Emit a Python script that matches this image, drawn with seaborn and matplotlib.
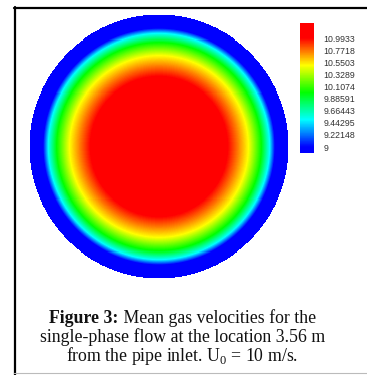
"""Mean gas velocity field over the pipe cross-section (single-phase flow)."""

import matplotlib

matplotlib.use("Agg")

import matplotlib.pyplot as plt
import numpy as np
import seaborn as sns
from matplotlib.colors import LinearSegmentedColormap
from matplotlib.lines import Line2D

# ---------------------------------------------------------------------------
# Data
# ---------------------------------------------------------------------------

# radial velocity profile (r / R -> mean gas velocity, m/s)
raio_rel = [0.0, 0.30, 0.53, 0.61, 0.69, 0.79, 0.855, 0.895, 0.95, 1.0]
velocidade = [11.25, 11.15, 10.9933, 10.75, 10.495, 9.997, 9.498, 9.0, 8.8, 8.6]

niveis = [10.9933, 10.7718, 10.5503, 10.3289, 10.1074,
          9.88591, 9.66443, 9.44295, 9.22148, 9.0]
rotulos_niveis = ["10.9933", "10.7718", "10.5503", "10.3289", "10.1074",
                  "9.88591", "9.66443", "9.44295", "9.22148", "9"]
v_min, v_max = 9.0, 10.9933

linhas_legenda = [
    "single-phase flow at the location 3.56 m",
    "from the pipe inlet. U$_0$ = 10 m/s.",
]

# ---------------------------------------------------------------------------
# Field on a grid (radial profile evaluated over the section)
# ---------------------------------------------------------------------------

n = 260
eixo = np.linspace(-1, 1, n)
xx, yy = np.meshgrid(eixo, eixo)
rr = np.hypot(xx, yy)
campo = np.interp(rr, raio_rel, velocidade)
fora = rr > 1.0

cores = ["#0000ff", "#00ffff", "#00ff00", "#ffff00", "#ff0000"]
cmap = LinearSegmentedColormap.from_list("fluent", cores)
cmap.set_over("#ff0000")
cmap.set_under("#0000ff")

sns.set_style("white")
plt.rcParams["mathtext.fontset"] = "custom"
plt.rcParams["mathtext.rm"] = "Liberation Serif"

fig = plt.figure(figsize=(3.67, 3.75), dpi=100)
W, H = 367.0, 375.0

ax = fig.add_axes([28.7 / W, 1 - 279 / H, 260 / W, 265 / H])
sns.heatmap(
    campo,
    mask=fora,
    cmap=cmap,
    vmin=v_min,
    vmax=v_max,
    cbar=False,
    xticklabels=False,
    yticklabels=False,
    ax=ax,
)
ax.set_axis_off()

# legend bar
cax = fig.add_axes([300 / W, 1 - 153 / H, 14 / W, 130 / H])
cbar = fig.colorbar(
    ax.collections[0],
    cax=cax,
    extend="both",
    extendfrac=(0.055, 0.138),
    extendrect=True,
    ticks=niveis,
)
cbar.set_ticklabels(rotulos_niveis)
cbar.outline.set_visible(False)
cax.tick_params(length=0, pad=7, labelsize=6.3, labelcolor="#333333")
for lbl in cax.get_yticklabels():
    lbl.set_fontfamily("Liberation Sans")

# ---------------------------------------------------------------------------
# Frame
# ---------------------------------------------------------------------------

fig.add_artist(Line2D([14.5 / W, 14.5 / W], [0, 1 - 7 / H], color="black",
                      lw=1.6, transform=fig.transFigure))
fig.add_artist(Line2D([13.8 / W, 1], [1 - 7.5 / H, 1 - 7.5 / H], color="black",
                      lw=1.6, transform=fig.transFigure))
fig.add_artist(Line2D([14 / W, 1], [1 - 372.5 / H, 1 - 372.5 / H], color="#bbbbbb",
                      lw=0.8, transform=fig.transFigure))

# ---------------------------------------------------------------------------
# Caption
# ---------------------------------------------------------------------------

cx = 182.5 / W
tam = 12.8
fig.canvas.draw()
rend = fig.canvas.get_renderer()

t_neg = fig.text(0, 1 - 322.7 / H, "Figure 3:", fontsize=tam, fontweight="bold",
                 family="Liberation Serif", color="#111111", va="baseline")
t_rest = fig.text(0, 1 - 322.7 / H, " Mean gas velocities for the", fontsize=tam,
                  family="Liberation Serif", color="#111111", va="baseline")
w_neg = t_neg.get_window_extent(rend).width / fig.bbox.width
w_rest = t_rest.get_window_extent(rend).width / fig.bbox.width
x0 = cx - (w_neg + w_rest) / 2
t_neg.set_x(x0)
t_rest.set_x(x0 + w_neg)

for i, linha in enumerate(linhas_legenda):
    fig.text(cx, 1 - (341.9 + 19.5 * i) / H, linha, fontsize=tam, ha="center",
             family="Liberation Serif", color="#111111", va="baseline")

fig.savefig("out.png", dpi=100)
plt.close(fig)
